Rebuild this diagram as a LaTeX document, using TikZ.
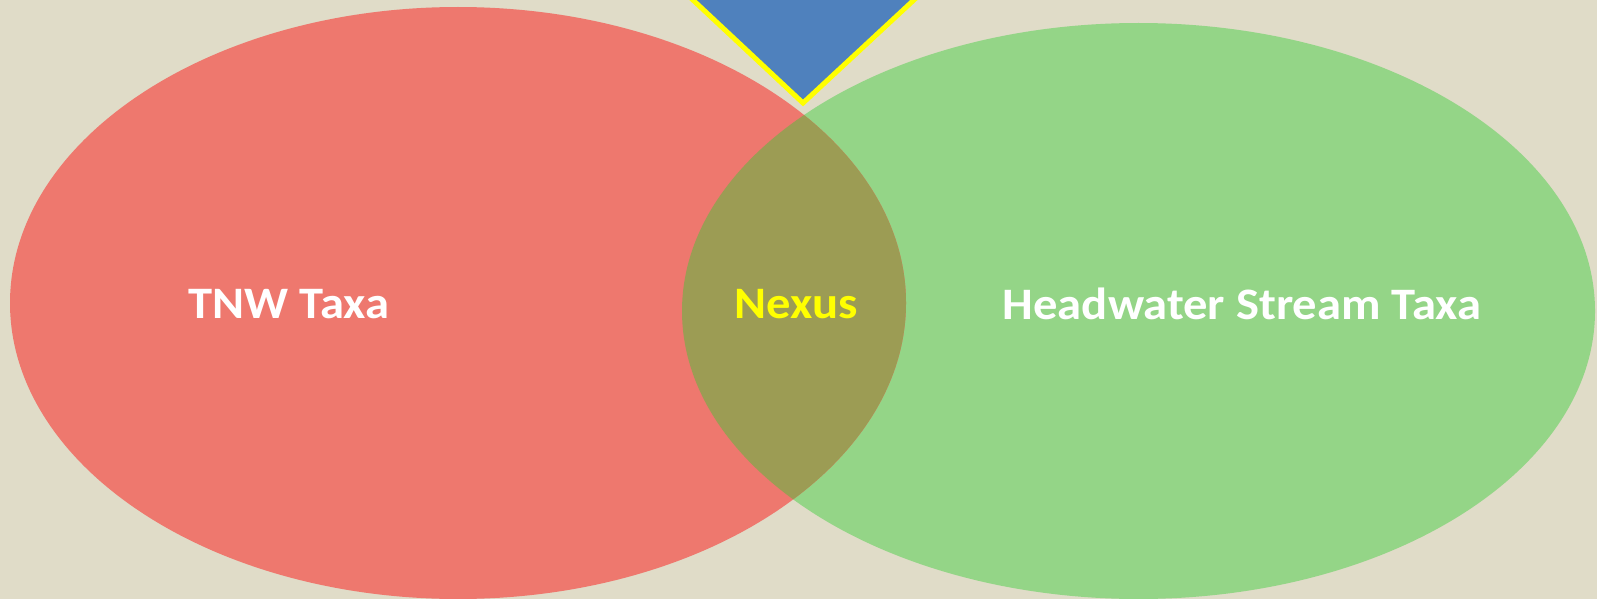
\documentclass[tikz,border=0pt]{standalone}
\usepackage{fontspec}
\setmainfont{Carlito}
\definecolor{bgc}{HTML}{E0DCC8}
\definecolor{redc}{HTML}{EE786E}
\definecolor{greenc}{HTML}{94D587}
\definecolor{nexc}{HTML}{9C9C54}
\definecolor{bluec}{HTML}{4F81BD}
\definecolor{yelc}{HTML}{FFFF00}
\newcommand{\wtxt}[1]{\scalebox{1.08}[1]{#1}}
\begin{document}
\begin{tikzpicture}[x=1pt,y=-1pt,
  lbl/.style={font=\fontsize{45}{52}\selectfont\bfseries, inner sep=0pt, anchor=center}]
\useasboundingbox (0,0) rectangle (1597,599);
\fill[bgc] (0,0) rectangle (1597,599);
\def\redell{(458,303) ellipse [x radius=448, y radius=296]}
\def\greenell{(1138.5,311) ellipse [x radius=456.5, y radius=288]}
\fill[greenc] \greenell;
\fill[redc] \redell;
\begin{scope}
  \clip \redell;
  \fill[nexc] \greenell;
\end{scope}
\fill[bluec, draw=yelc, line width=5pt, line join=miter]
  (671.6,-20) -- (803,103) -- (935.4,-20) -- cycle;
\node[lbl, text=white] (tnw) at (289,304) {\wtxt{TNW Taxa}};
\node[lbl, text=yelc] (nexus) at (796,304) {\wtxt{Nexus}};
\node[lbl, text=white] (head) at (1242,304) {\wtxt{Headwater Stream Taxa}};
\end{tikzpicture}
\end{document}
